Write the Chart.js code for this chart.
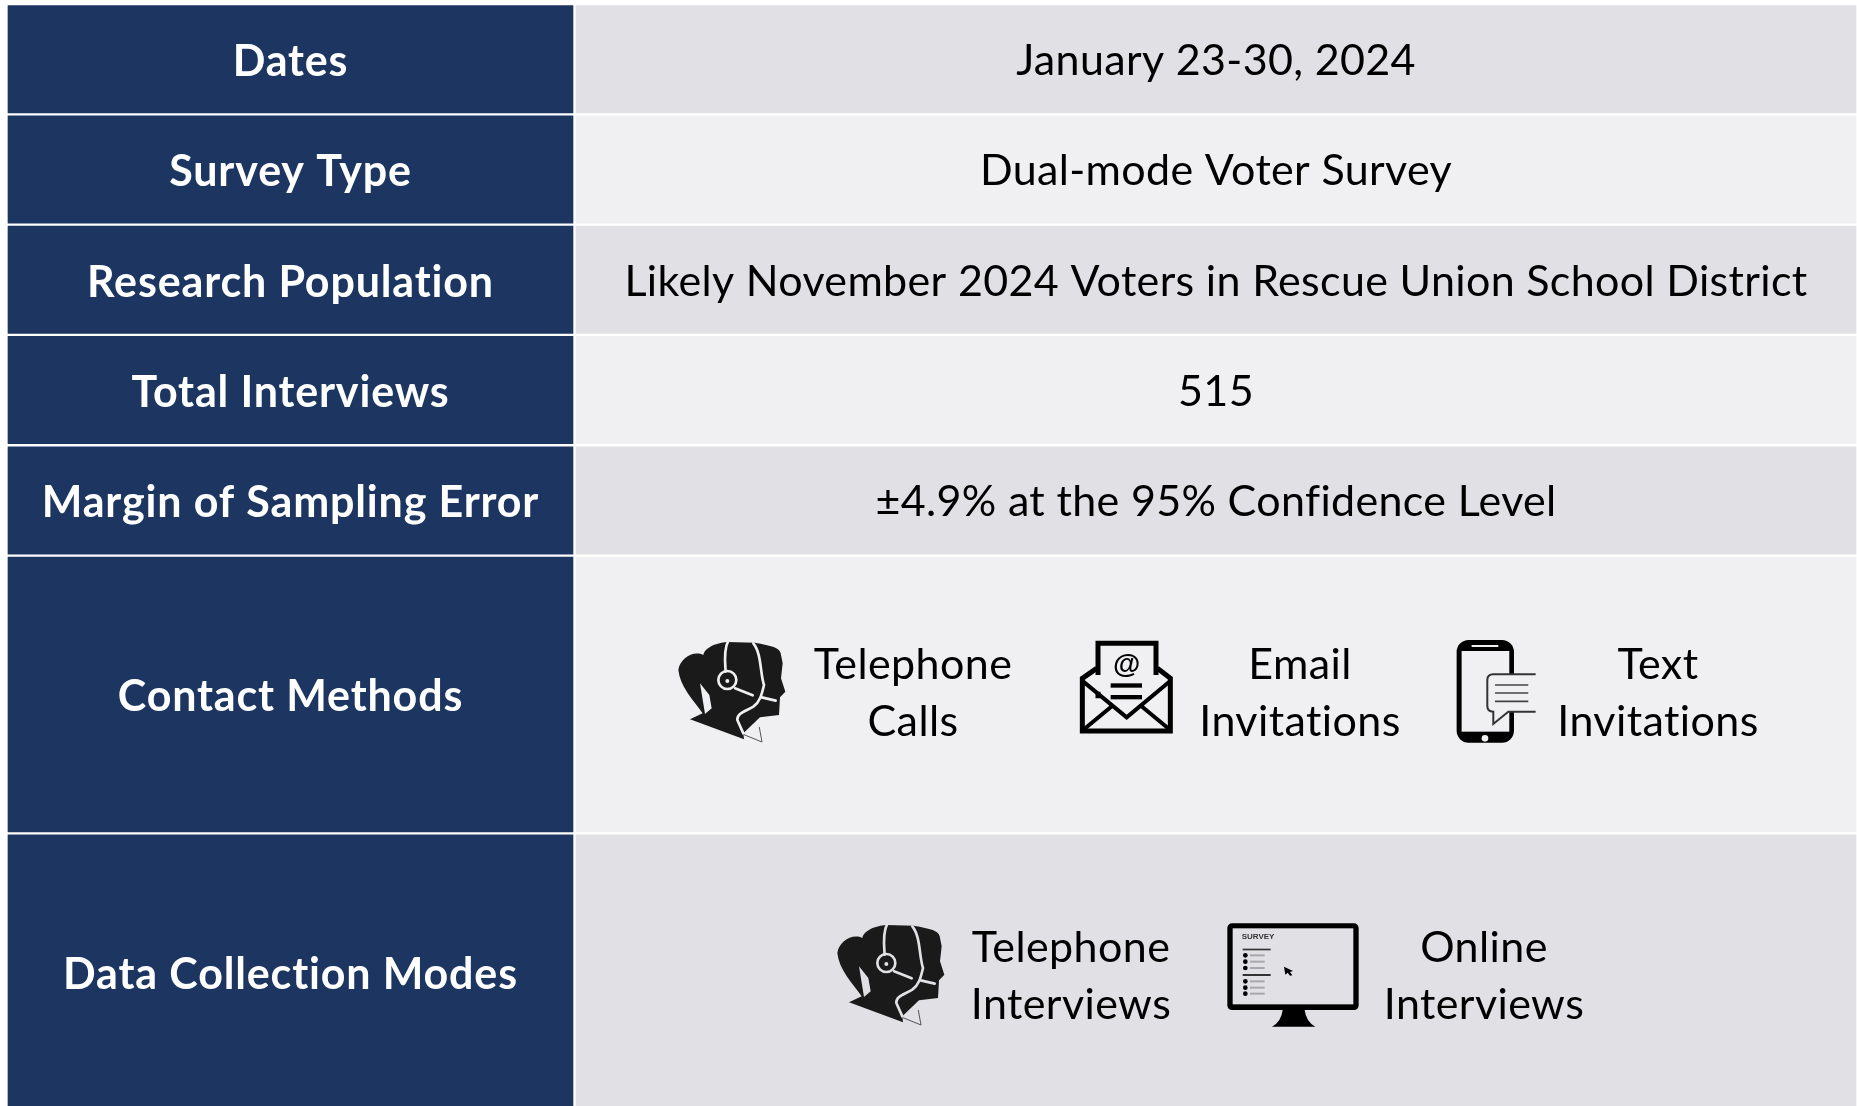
<!DOCTYPE html>
<html>
<head>
<meta charset="utf-8">
<title>Survey Methodology</title>
<script src="https://cdn.jsdelivr.net/npm/chart.js@4/dist/chart.umd.min.js"></script>
<style>
    html, body { margin: 0; padding: 0; background: #ffffff; }
    canvas { display: block; }
</style>
</head>
<body>
<canvas id="methodChart" width="1857" height="1106"></canvas>
<script>
const rowLabels = ['Dates', 'Survey Type', 'Research Population', 'Total Interviews', 'Margin of Sampling Error', 'Contact Methods', 'Data Collection Modes'];
const rowValues = ['January 23-30, 2024', 'Dual-mode Voter Survey', 'Likely November 2024 Voters in Rescue Union School District', '515', '\u00B14.9% at the 95% Confidence Level', '', ''];
const rowSpans = [1, 1, 1, 1, 1, 2.518, 2.518];
const contactMethods = [['Telephone', 'Calls'], ['Email', 'Invitations'], ['Text', 'Invitations']];
const collectionModes = [['Telephone', 'Interviews'], ['Online', 'Interviews']];

const NAVY = '#1c3661';
const SHADE_DARK = '#e0e0e5';
const SHADE_LIGHT = '#f0f0f2';
const valueColors = [SHADE_DARK, SHADE_LIGHT, SHADE_DARK, SHADE_LIGHT, SHADE_DARK, SHADE_LIGHT, SHADE_DARK];

// running total of the spans gives each row's floating bar
let runningTop = 0;
const rowBands = rowSpans.map(span => {
    const band = [runningTop, runningTop + span];
    runningTop += span;
    return band;
});

function rowCentre(i) {
    return (rowBands[i][0] + rowBands[i][1]) / 2;
}

// icons are traced in 3x zoom space, origin is the crop corner
function inZoomSpace(ctx, ox, oy, draw) {
    ctx.save();
    ctx.translate(ox, oy);
    ctx.scale(1 / 3, 1 / 3);
    draw();
    ctx.restore();
}

function drawHeadset(ctx, ox, oy, bg) {
    inZoomSpace(ctx, ox, oy, () => {
        ctx.fillStyle = '#1a1a1a';
        ctx.beginPath();
        ctx.moveTo(55, 150);
        ctx.bezierCurveTo(60, 115, 100, 90, 130, 105);
        ctx.bezierCurveTo(135, 80, 175, 68, 200, 66);
        ctx.lineTo(285, 68);
        ctx.bezierCurveTo(320, 75, 360, 80, 362, 100);
        ctx.lineTo(368, 130);
        ctx.lineTo(363, 175);
        ctx.lineTo(376, 215);
        ctx.lineTo(360, 232);
        ctx.lineTo(357, 285);
        ctx.lineTo(300, 292);
        ctx.lineTo(250, 340);
        ctx.lineTo(252, 358);
        ctx.lineTo(90, 298);
        ctx.lineTo(128, 280);
        ctx.bezierCurveTo(100, 240, 60, 200, 55, 150);
        ctx.fill();

        ctx.strokeStyle = bg;
        ctx.lineCap = 'round';
        ctx.lineWidth = 8;
        ctx.beginPath();
        ctx.moveTo(205, 62);
        ctx.bezierCurveTo(190, 90, 195, 130, 197, 155);
        ctx.stroke();
        ctx.beginPath();
        ctx.moveTo(280, 70);
        ctx.bezierCurveTo(305, 100, 300, 160, 312, 195);
        ctx.bezierCurveTo(305, 225, 300, 245, 280, 260);
        ctx.bezierCurveTo(255, 275, 230, 280, 232, 300);
        ctx.lineTo(250, 340);
        ctx.stroke();
        ctx.beginPath();
        ctx.arc(202, 180, 27, 0, Math.PI * 2);
        ctx.stroke();
        ctx.beginPath();
        ctx.moveTo(225, 205);
        ctx.lineTo(278, 226);
        ctx.moveTo(305, 232);
        ctx.lineTo(347, 242);
        ctx.stroke();
        ctx.fillStyle = bg;
        ctx.beginPath();
        ctx.arc(202, 183, 6, 0, Math.PI * 2);
        ctx.fill();
        ctx.beginPath();
        ctx.moveTo(120, 190);
        ctx.lineTo(135, 282);
        ctx.lineTo(155, 265);
        ctx.lineTo(148, 225);
        ctx.fill();

        // collar
        ctx.strokeStyle = '#555555';
        ctx.lineWidth = 3;
        ctx.beginPath();
        ctx.moveTo(252, 344);
        ctx.lineTo(306, 366);
        ctx.lineTo(298, 322);
        ctx.stroke();
    });
}

function drawEnvelope(ctx, ox, oy, bg) {
    inZoomSpace(ctx, ox, oy, () => {
        ctx.strokeStyle = '#000000';
        ctx.fillStyle = '#000000';
        ctx.lineJoin = 'miter';
        ctx.lineWidth = 15;
        ctx.beginPath();
        ctx.moveTo(114, 165);
        ctx.lineTo(114, 70);
        ctx.lineTo(288, 70);
        ctx.lineTo(288, 165);
        ctx.moveTo(114, 235);
        ctx.lineTo(114, 215);
        ctx.stroke();
        ctx.beginPath();
        ctx.moveTo(110, 145);
        ctx.lineTo(67, 175);
        ctx.lineTo(67, 333);
        ctx.lineTo(331, 333);
        ctx.lineTo(331, 175);
        ctx.lineTo(292, 145);
        ctx.stroke();
        ctx.lineWidth = 12;
        ctx.beginPath();
        ctx.moveTo(70, 185);
        ctx.lineTo(200, 292);
        ctx.lineTo(328, 185);
        ctx.moveTo(72, 328);
        ctx.lineTo(160, 255);
        ctx.moveTo(328, 328);
        ctx.lineTo(240, 255);
        ctx.stroke();
        ctx.fillRect(152, 190, 94, 13);
        ctx.fillRect(152, 225, 94, 13);
        ctx.font = 'bold 84px "Liberation Sans"';
        ctx.textAlign = 'center';
        ctx.textBaseline = 'middle';
        ctx.fillText('@', 200, 137);
    });
}

function drawPhone(ctx, ox, oy, bg) {
    inZoomSpace(ctx, ox, oy, () => {
        ctx.fillStyle = '#000000';
        ctx.beginPath();
        ctx.roundRect(130, 60, 172, 308, 36);
        ctx.fill();
        ctx.fillStyle = bg;
        ctx.fillRect(145, 93, 143, 242);
        ctx.fillRect(175, 75, 80, 6);
        ctx.beginPath();
        ctx.arc(215, 355, 10, 0, Math.PI * 2);
        ctx.fill();

        ctx.strokeStyle = '#333333';
        ctx.lineWidth = 6;
        ctx.beginPath();
        ctx.moveTo(367, 163);
        ctx.lineTo(240, 163);
        ctx.quadraticCurveTo(222, 163, 222, 180);
        ctx.lineTo(222, 258);
        ctx.quadraticCurveTo(222, 275, 240, 275);
        ctx.lineTo(240, 312);
        ctx.lineTo(285, 275);
        ctx.lineTo(367, 275);
        ctx.fill();
        ctx.stroke();
        ctx.strokeStyle = '#444444';
        ctx.lineWidth = 5;
        ctx.beginPath();
        [195, 219, 244].forEach(y => {
            ctx.moveTo(245, y);
            ctx.lineTo(345, y);
        });
        ctx.stroke();
    });
}

function drawMonitor(ctx, ox, oy, bg) {
    inZoomSpace(ctx, ox, oy, () => {
        ctx.fillStyle = '#000000';
        ctx.beginPath();
        ctx.roundRect(82, 70, 394, 260, 14);
        ctx.fill();
        ctx.beginPath();
        ctx.moveTo(248, 330);
        ctx.lineTo(314, 330);
        ctx.quadraticCurveTo(318, 365, 346, 380);
        ctx.lineTo(216, 380);
        ctx.quadraticCurveTo(244, 365, 248, 330);
        ctx.fill();
        ctx.fillStyle = bg;
        ctx.fillRect(98, 85, 362, 228);

        ctx.fillStyle = '#333333';
        ctx.font = 'bold 24px "Liberation Sans"';
        ctx.textAlign = 'left';
        ctx.textBaseline = 'middle';
        ctx.fillText('SURVEY', 125, 111);
        ctx.fillRect(128, 146, 84, 5);
        ctx.fillRect(128, 222, 84, 6);
        ctx.fillStyle = '#a8a8ac';
        [166, 185, 204, 244, 263, 281].forEach(y => ctx.fillRect(150, y - 3, 44, 6));
        ctx.fillStyle = '#000000';
        [166, 185, 204, 244, 263, 281].forEach(y => {
            ctx.beginPath();
            ctx.arc(136, y, 7, 0, Math.PI * 2);
            ctx.fill();
        });
        ctx.beginPath();
        ctx.moveTo(252, 200);
        ctx.lineTo(279, 213);
        ctx.lineTo(270, 216);
        ctx.lineTo(277, 226);
        ctx.lineTo(270, 227);
        ctx.lineTo(263, 218);
        ctx.lineTo(256, 224);
        ctx.fill();
    });
}

const tableText = {
    id: 'tableText',
    afterDatasetsDraw(chart) {
        const { ctx, scales: { x, y } } = chart;
        ctx.save();
        ctx.textAlign = 'center';
        ctx.textBaseline = 'middle';

        rowLabels.forEach((label, i) => {
            ctx.font = 'bold 43px Lato';
            ctx.letterSpacing = '0.85px';
            ctx.fillStyle = '#ffffff';
            ctx.fillText(label, x.getPixelForValue(290.5), y.getPixelForValue(rowCentre(i)) + 3);
            if (rowValues[i]) {
                ctx.font = '43px Lato';
                ctx.letterSpacing = '0.34px';
                ctx.fillStyle = '#000000';
                ctx.fillText(rowValues[i], x.getPixelForValue(1216), y.getPixelForValue(rowCentre(i)) + 2);
            }
        });

        const contactX = [913, 1300, 1658];
        const modeX = [1071, 1484];
        ctx.font = '43px Lato';
        ctx.letterSpacing = '0.4px';
        ctx.fillStyle = '#000000';
        const stacked = (pair, cx, cy) => {
            ctx.fillText(pair[0], x.getPixelForValue(cx), y.getPixelForValue(cy) - 29);
            ctx.fillText(pair[1], x.getPixelForValue(cx), y.getPixelForValue(cy) + 28);
        };
        contactMethods.forEach((pair, i) => stacked(pair, contactX[i], rowCentre(5)));
        collectionModes.forEach((pair, i) => stacked(pair, modeX[i], rowCentre(6) + 0.045));

        ctx.restore();

        drawHeadset(ctx, 660, 620, SHADE_LIGHT);
        drawEnvelope(ctx, 1060, 620, SHADE_LIGHT);
        drawPhone(ctx, 1413.3, 620, SHADE_LIGHT);
        drawHeadset(ctx, 819, 903, SHADE_DARK);
        drawMonitor(ctx, 1200, 900, SHADE_DARK);
    }
};

new Chart(document.getElementById('methodChart'), {
    type: 'bar',
    data: {
        datasets: [
            {
                label: 'Item',
                data: rowBands.map(band => ({ x: 290.5, y: band })),
                backgroundColor: NAVY,
                barThickness: 568
            },
            {
                label: 'Detail',
                data: rowBands.map(band => ({ x: 1216, y: band })),
                backgroundColor: valueColors,
                barThickness: 1283
            }
        ]
    },
    options: {
        responsive: false,
        animation: false,
        layout: { padding: { top: 4 } },
        datasets: {
            bar: {
                grouped: false,
                borderColor: '#ffffff',
                borderWidth: 1.5,
                borderSkipped: false
            }
        },
        scales: {
            x: { type: 'linear', display: false, offset: false, min: 0, max: 1857 },
            y: { display: false, reverse: true, min: 0, max: 9.99 }
        },
        plugins: {
            legend: { display: false },
            tooltip: { enabled: false }
        }
    },
    plugins: [tableText]
});
</script>
</body>
</html>
